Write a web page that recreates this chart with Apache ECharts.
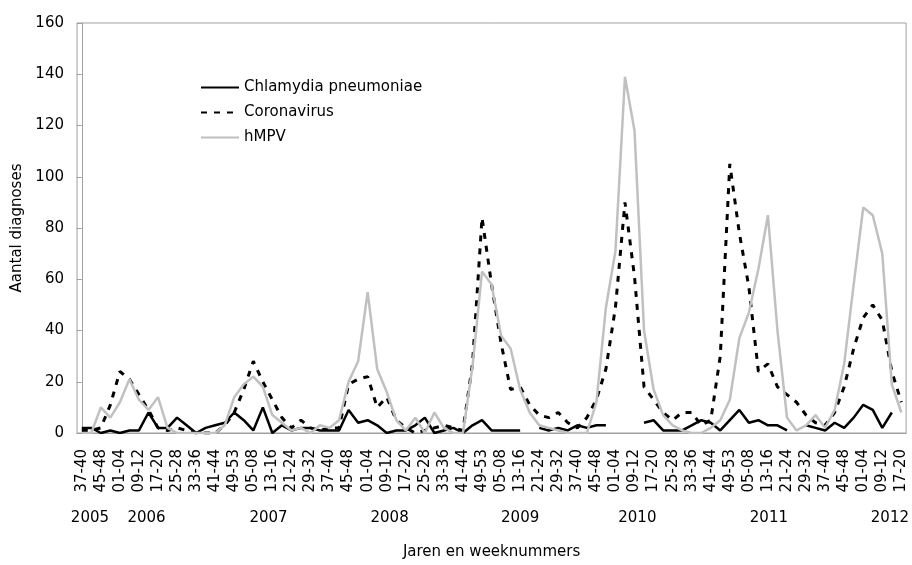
<!DOCTYPE html>
<html><head><meta charset="utf-8">
<script src="https://cdn.jsdelivr.net/npm/echarts@6/dist/echarts.min.js"></script>
<style>html,body{margin:0;padding:0;background:#fff}#c{width:912px;height:565px}</style>
</head><body><div id="c"></div><script>
const categories = [
 '37-40','41-44','45-48','49-53',
 '01-04','05-08','09-12','13-16','17-20','21-24','25-28','29-32','33-36','37-40','41-44','45-48','49-53',
 '01-04','05-08','09-12','13-16','17-20','21-24','25-28','29-32','33-36','37-40','41-44','45-48','49-53',
 '01-04','05-08','09-12','13-16','17-20','21-24','25-28','29-32','33-36','37-40','41-44','45-48','49-53',
 '01-04','05-08','09-12','13-16','17-20','21-24','25-28','29-32','33-36','37-40','41-44','45-48','49-53',
 '01-04','05-08','09-12','13-16','17-20','21-24','25-28','29-32','33-36','37-40','41-44','45-48','49-53',
 '01-04','05-08','09-12','13-16','17-20','21-24','25-28','29-32','33-36','37-40','41-44','45-48','49-53',
 '01-04','05-08','09-12','13-16','17-20'
];
const chlamydia = [
 2,2,0,1,0,1,1,8,2,2,
 6,3,0,2,3,4,8,5,1,10,
 0,3,1,2,2,1,1,1,9,4,
 5,3,0,1,1,3,6,0,1,2,
 0,3,5,1,1,1,1,null,2,1,
 2,1,3,2,3,3,null,null,null,4,
 5,1,1,1,3,5,4,1,5,9,
 4,5,3,3,1,null,3,2,1,4,
 2,6,11,9,2,8,null
];
const coronavirus = [
 1,1,2,11,24,21,15,9,2,1,
 2,1,0,0,0,3,8,17,28,20,
 13,6,2,5,2,1,2,2,19,21,
 22,10,14,5,2,0,1,2,3,2,
 1,27,84,58,35,17,18,11,7,6,
 8,4,2,6,13,25,49,90,61,18,
 13,8,5,8,8,3,5,30,105,78,
 57,24,27,18,15,12,7,4,3,8,
 18,33,45,50,44,24,12
];
const hmpv = [
 0,0,10,6,12,21,13,9,14,2,
 0,0,0,0,0,3,14,19,22,18,
 7,4,1,2,0,3,2,5,20,28,
 55,25,16,5,1,6,0,8,2,0,
 0,26,63,58,38,33,17,8,3,2,
 1,0,0,0,12,49,71,139,118,40,
 17,7,3,1,0,0,2,5,13,37,
 47,64,85,40,6,1,3,7,2,9,
 27,58,88,85,70,19,8
];
const seriesNames = ['Chlamydia pneumoniae','Coronavirus','hMPV'];
const yearLabels = ['2005','2006','2007','2008','2009','2010','2011','2012'];
const yearAt = [0.86, 6.8, 19.6, 32.3, 46.0, 58.3, 72.1, 84.8];

const FONT = 'Verdana, "DejaVu Sans", sans-serif';
const AX = '#a0a0a0';
const chart = echarts.init(document.getElementById('c'));
chart.setOption({
  animation: false,
  textStyle: {fontFamily: FONT},
  grid: {left: 77, right: 5, top: 23, bottom: 132, show: true, borderColor: AX, borderWidth: 1},
  legend: {
    orient: 'vertical', left: 195, top: 75, itemWidth: 38, itemHeight: 14, itemGap: 10,
    itemStyle: {opacity: 0},
    textStyle: {fontSize: 15, color: '#000', fontFamily: FONT},
    data: seriesNames
  },
  xAxis: [{
    type: 'category', data: categories, boundaryGap: true,
    axisLine: {lineStyle: {color: AX}},
    axisTick: {interval: 0, length: 5, lineStyle: {color: AX}},
    axisLabel: {interval: 1, rotate: 90, fontSize: 15, color: '#000', margin: 16, fontFamily: FONT},
    name: 'Jaren en weeknummers', nameLocation: 'middle', nameGap: 112,
    nameTextStyle: {fontSize: 15, color: '#000', fontFamily: FONT}
  }, {
    type: 'value', min: -0.5, max: 86.5, position: 'bottom', offset: 72,
    axisLine: {show: false}, axisTick: {show: false}, splitLine: {show: false},
    axisLabel: {
      customValues: yearAt, fontSize: 15, color: '#000', margin: 6, fontFamily: FONT,
      formatter: function (v) {
        let best = 0;
        for (let k = 1; k < yearAt.length; k++) if (Math.abs(yearAt[k] - v) < Math.abs(yearAt[best] - v)) best = k;
        return yearLabels[best];
      }
    }
  }],
  yAxis: {
    type: 'value', min: 0, max: 160, interval: 20,
    axisLine: {show: true, lineStyle: {color: AX}},
    axisTick: {show: true, length: 5, lineStyle: {color: AX}},
    splitLine: {show: false},
    axisLabel: {fontSize: 15, color: '#000', margin: 13, fontFamily: FONT},
    name: 'Aantal diagnoses', nameLocation: 'middle', nameGap: 50,
    nameTextStyle: {fontSize: 15, color: '#000', fontFamily: FONT}
  },
  series: [
    {name: seriesNames[0], type: 'line', data: chlamydia, symbol: 'none', connectNulls: false,
     lineStyle: {color: '#000', width: 2.5}, itemStyle: {color: '#000'}},
    {name: seriesNames[1], type: 'line', data: coronavirus, symbol: 'none',
     lineStyle: {color: '#000', width: 3, type: [6, 7]}, itemStyle: {color: '#000'}},
    {name: seriesNames[2], type: 'line', data: hmpv, symbol: 'none',
     lineStyle: {color: '#c0c0c0', width: 2.5}, itemStyle: {color: '#c0c0c0'}}
  ]
});
</script></body></html>
